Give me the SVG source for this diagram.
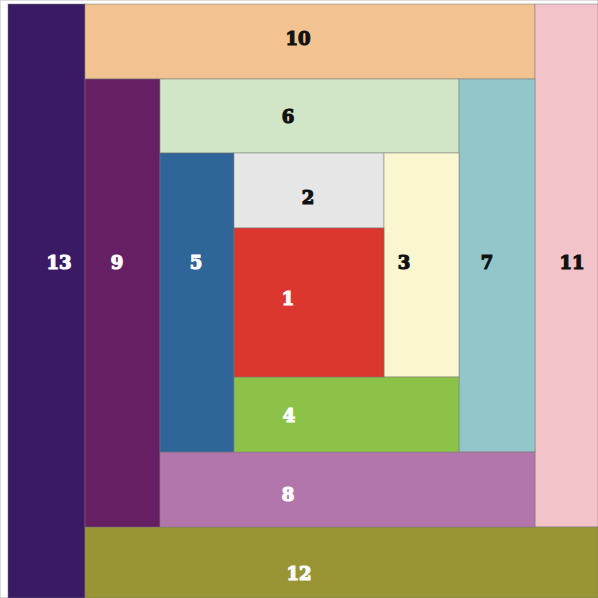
<svg xmlns="http://www.w3.org/2000/svg" width="598" height="598" viewBox="0 0 598 598">
<style>
rect { stroke: #7a7a7a; stroke-opacity: 0.5; stroke-width: 1; }
text { font-family: "DejaVu Serif", "Liberation Serif", serif; font-weight: bold; font-size: 18px; text-anchor: middle; dominant-baseline: central; stroke-width: 1.2; }
.w { fill: #ffffff; stroke: #ffffff; }
.k { fill: #111111; stroke: #111111; }
</style>
<rect x="0" y="0" width="598" height="598" fill="#ffffff" stroke="none"/>
<g id="n13"><rect x="8" y="4" width="77" height="594" fill="#3a1a64"/><text class="w" x="59" y="262">13</text></g>
<g id="n10"><rect x="85" y="4" width="450" height="75" fill="#f2c391"/><text class="k" x="298" y="38">10</text></g>
<g id="n11"><rect x="535" y="4" width="63" height="523" fill="#f2c4c9"/><text class="k" x="572" y="262">11</text></g>
<g id="n12"><rect x="85" y="527" width="513" height="71" fill="#999534"/><text class="w" x="299" y="573">12</text></g>
<g id="n9"><rect x="85" y="79" width="75" height="448" fill="#661f62"/><text class="w" x="117" y="262">9</text></g>
<g id="n6"><rect x="160" y="79" width="299" height="74" fill="#d1e6c6"/><text class="k" x="288" y="116">6</text></g>
<g id="n7"><rect x="459" y="79" width="76" height="373" fill="#93c6cb"/><text class="k" x="487" y="262">7</text></g>
<g id="n8"><rect x="160" y="452" width="375" height="75" fill="#b276ab"/><text class="w" x="288" y="494">8</text></g>
<g id="n5"><rect x="160" y="153" width="74" height="299" fill="#2f6599"/><text class="w" x="196" y="262">5</text></g>
<g id="n2"><rect x="234" y="153" width="150" height="75" fill="#e6e6e6"/><text class="k" x="308" y="197">2</text></g>
<g id="n3"><rect x="384" y="153" width="75" height="224" fill="#faf6cf"/><text class="k" x="404" y="262">3</text></g>
<g id="n4"><rect x="234" y="377" width="225" height="75" fill="#8dc249"/><text class="w" x="289" y="415">4</text></g>
<g id="n1"><rect x="234" y="228" width="150" height="149" fill="#dc372f"/><text class="w" x="288" y="298">1</text></g>
<g id="connectors"></g>
</svg>
